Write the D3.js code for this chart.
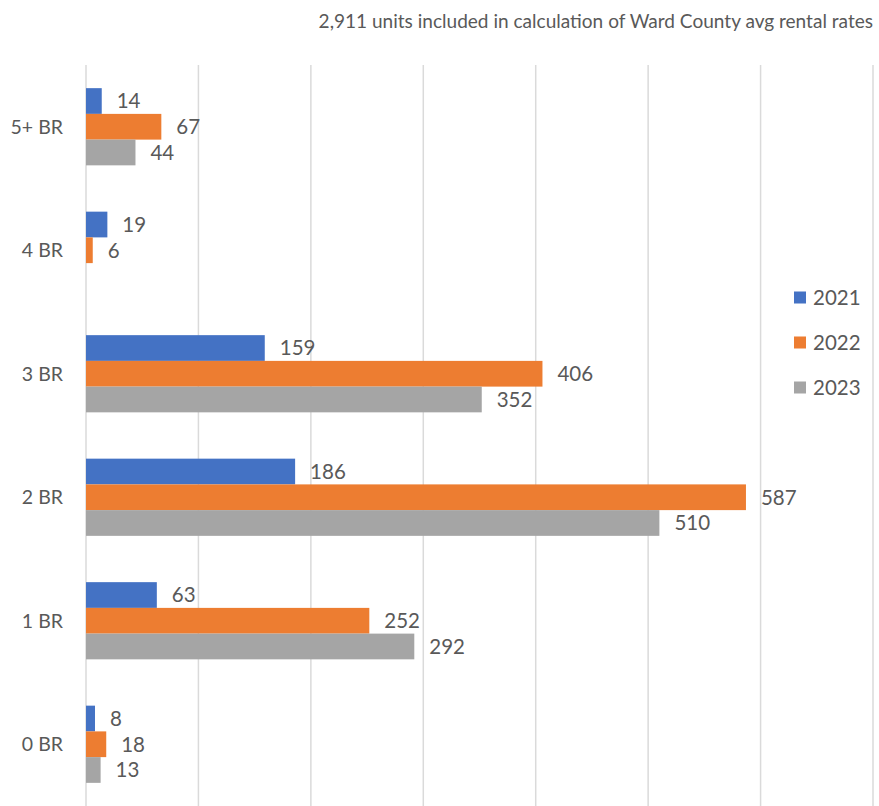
<!DOCTYPE html>
<html><head><meta charset="utf-8">
<script src="https://cdn.jsdelivr.net/npm/d3@7"></script>
<style>html,body{margin:0;padding:0;background:#fff;}svg{display:block;}</style>
</head><body>
<svg id="chart" width="879" height="806"></svg>
<script>
const title = "2,911 units included in calculation of Ward County avg rental rates";
const categories = ["5+ BR", "4 BR", "3 BR", "2 BR", "1 BR", "0 BR"];
const seriesNames = ["2021", "2022", "2023"];
const values2021 = [14, 19, 159, 186, 63, 8];
const values2022 = [67, 6, 406, 587, 252, 18];
const values2023 = [44, null, 352, 510, 292, 13];
const xTicks = [0, 100, 200, 300, 400, 500, 600, 700];
const colors = ["#4472C4", "#ED7D31", "#A5A5A5"];

(function () {
const seriesValues = [values2021, values2022, values2023];
const font = "Lato, 'Open Sans', sans-serif";
const textColor = "#595959";

const svg = d3.select("#chart");
const pLeft = 86, pRight = 873, pTop = 65, pBottom = 806;

const x = d3.scaleLinear().domain([0, 700]).range([pLeft, pRight]);
const y0 = d3.scaleBand().domain(categories).range([pTop, pBottom]).paddingInner(0.375).paddingOuter(0.1875);
const y1 = d3.scaleBand().domain(seriesNames).range([0, y0.bandwidth()]);

// gridlines
svg.append("g").selectAll("line").data(xTicks).join("line")
  .attr("x1", d => x(d)).attr("x2", d => x(d))
  .attr("y1", pTop).attr("y2", pBottom)
  .attr("stroke", "#dadada").attr("stroke-width", 1.5);

// title
const t = svg.append("text").text(title)
  .attr("x", 873).attr("y", 28).attr("text-anchor", "end")
  .attr("font-family", font).attr("font-size", 18).attr("fill", textColor);
const w = t.node().getComputedTextLength();
t.attr("font-size", 18 * 555 / w);

// bars
const groups = svg.append("g").selectAll("g").data(categories).join("g")
  .attr("transform", d => `translate(0,${y0(d)})`);

groups.each(function(cat, ci) {
  const g = d3.select(this);
  const rows = seriesNames.map((s, si) => ({s, si, v: seriesValues[si][ci]})).filter(r => r.v != null);
  g.selectAll("rect").data(rows).join("rect")
    .attr("x", x(0)).attr("y", r => y1(r.s))
    .attr("width", r => x(r.v) - x(0)).attr("height", y1.bandwidth())
    .attr("fill", r => colors[r.si]);
  g.selectAll("text").data(rows).join("text")
    .attr("x", r => x(r.v) + 15).attr("y", r => y1(r.s) + y1.bandwidth() / 2)
    .attr("dy", "0.36em")
    .attr("font-family", font).attr("font-size", 20.5).attr("fill", textColor)
    .text(r => r.v);
});

// category axis labels
svg.append("g").selectAll("text").data(categories).join("text")
  .attr("x", 63).attr("y", d => y0(d) + y0.bandwidth() / 2)
  .attr("dy", "0.36em").attr("text-anchor", "end")
  .attr("font-family", font).attr("font-size", 19.5).attr("fill", textColor)
  .text(d => d);

// legend
const legend = svg.append("g").selectAll("g").data(seriesNames).join("g")
  .attr("transform", (d, i) => `translate(794,${297.5 + i * 45})`);
legend.append("rect").attr("x", 0).attr("y", -6).attr("width", 12).attr("height", 12)
  .attr("fill", (d, i) => colors[i]);
legend.append("text").attr("x", 19).attr("y", 0).attr("dy", "0.36em")
  .attr("font-family", font).attr("font-size", 20.5).attr("fill", textColor)
  .text(d => d);
})();
</script>
</body></html>
